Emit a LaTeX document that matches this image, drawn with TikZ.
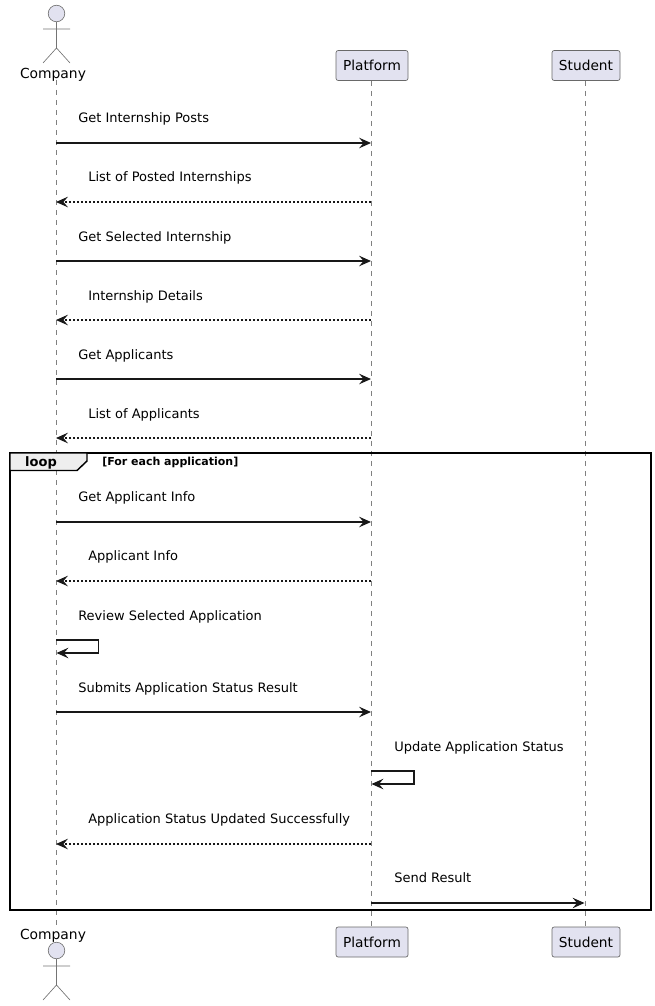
\documentclass[tikz,border=0pt]{standalone}
\usepackage{fontspec}
\setmainfont{DejaVu Sans}
\usetikzlibrary{arrows.meta}
\definecolor{partfill}{HTML}{E2E2F0}
\definecolor{partline}{HTML}{181818}
\definecolor{tabfill}{HTML}{EEEEEE}
\tikzset{
  box/.style={draw=partline!65,line width=0.5pt,fill=partfill,rounded corners=1.6pt,minimum height=22.5pt,inner sep=0pt,font=\fontsize{10.3pt}{12pt}\selectfont,text=black},
  lifeline/.style={draw=partline!55,line width=0.38pt,dash pattern=on 3.75pt off 3.75pt},
  stick/.style={draw=partline!60,line width=0.5pt},
  head/.style={circle,draw=partline!60,line width=0.5pt,fill=partfill,minimum size=12.4pt,inner sep=0pt},
  actorname/.style={anchor=base,inner sep=0pt,font=\fontsize{10.4pt}{12pt}\selectfont,text=black},
  lbl/.style={anchor=base west,inner sep=0pt,font=\fontsize{9.75pt}{12pt}\selectfont,text=black},
  call/.style={draw=partline,line width=1.1pt,-{Stealth[length=9pt,width=8pt,inset=3.4pt,line width=0pt]}},
  reply/.style={call,dash pattern=on 1.5pt off 1.5pt},
  frameline/.style={draw=black,line width=1.1pt},
}
\begin{document}
\begin{tikzpicture}[x=0.75pt,y=-0.75pt]
\useasboundingbox (0,0) rectangle (655,1006);
% lifeline ends
\coordinate (cT) at (56,80); \coordinate (cB) at (56,927);
\node[box,minimum width=54pt] (pT) at (372,65.5) {Platform};
\node[box,minimum width=54pt] (pB) at (372,942) {Platform};
\node[box,minimum width=51pt] (sT) at (586,65.5) {Student};
\node[box,minimum width=51pt] (sB) at (586,942) {Student};
\draw[lifeline] (cT) -- (cB);
\draw[lifeline] (pT.south -| 371,0) -- (pB.north -| 371,0);
\draw[lifeline] (sT.south -| 585,0) -- (sB.north -| 585,0);
% top actor
\node[head] (hT) at (56.5,13.5) {};
\coordinate (aTl) at (43,29); \coordinate (aTr) at (70,29);
\coordinate (hipT) at (56.5,48); \coordinate (fTl) at (43,63); \coordinate (fTr) at (70,63);
\draw[stick] (hT) -- (hipT) (aTl) -- (aTr) (fTl) -- (hipT) -- (fTr);
\node[actorname] (nT) at (53,78.5) {Company};
% bottom actor
\node[actorname] (nB) at (53,939) {Company};
\node[head] (hB) at (56.5,950.5) {};
\coordinate (aBl) at (43,966); \coordinate (aBr) at (70,966);
\coordinate (hipB) at (56.5,985); \coordinate (fBl) at (43,1000); \coordinate (fBr) at (70,1000);
\draw[stick] (hB) -- (hipB) (aBl) -- (aBr) (fBl) -- (hipB) -- (fBr);
% frame
\draw[frameline] (10,453) rectangle (651,910);
\draw[frameline,fill=tabfill] (10,453) -- (87,453) -- (87,461) -- (77,470.5) -- (10,470.5) -- cycle;
\node[anchor=base,inner sep=0pt,font=\bfseries\fontsize{9.75pt}{12pt}\selectfont] (looplbl) at (41,466) {loop};
\node[anchor=base west,inner sep=0pt,font=\bfseries\fontsize{8.25pt}{10pt}\selectfont] (guard) at (102,465) {[For each application]};
% messages
\foreach \n/\yy in {1/143,2/202,3/261,4/320,5/379,6/438,7/522,8/581,10/712,12/844}{
  \coordinate (c\n) at (56,\yy); \coordinate (p\n) at (371,\yy);}
\coordinate (p13) at (371,903); \coordinate (s13) at (584.5,903);
\coordinate (c9a) at (56,640); \coordinate (r9a) at (98.5,640); \coordinate (r9b) at (98.5,653); \coordinate (c9b) at (56.5,653);
\coordinate (p11a) at (371,771); \coordinate (r11a) at (414,771); \coordinate (r11b) at (414,784); \coordinate (p11b) at (371.5,784);
\draw[call] (c1) -- (p1);
\draw[reply] (p2) -- (c2);
\draw[call] (c3) -- (p3);
\draw[reply] (p4) -- (c4);
\draw[call] (c5) -- (p5);
\draw[reply] (p6) -- (c6);
\draw[call] (c7) -- (p7);
\draw[reply] (p8) -- (c8);
\draw[call] (c9a) -- (r9a) -- (r9b) -- (c9b);
\draw[call] (c10) -- (p10);
\draw[call] (p11a) -- (r11a) -- (r11b) -- (p11b);
\draw[reply] (p12) -- (c12);
\draw[call] (p13) -- (s13);
% labels
\node[lbl] (m1) at (78,122.5) {Get Internship Posts};
\node[lbl] (m2) at (88,181) {List of Posted Internships};
\node[lbl] (m3) at (78,241) {Get Selected Internship};
\node[lbl] (m4) at (88,300) {Internship Details};
\node[lbl] (m5) at (78,359) {Get Applicants};
\node[lbl] (m6) at (88,418) {List of Applicants};
\node[lbl] (m7) at (78,501) {Get Applicant Info};
\node[lbl] (m8) at (88,560) {Applicant Info};
\node[lbl] (m9) at (78,620) {Review Selected Application};
\node[lbl] (m10) at (78,692) {Submits Application Status Result};
\node[lbl] (m11) at (394,751) {Update Application Status};
\node[lbl] (m12) at (88,823) {Application Status Updated Successfully};
\node[lbl] (m13) at (394,882) {Send Result};
\end{tikzpicture}
\end{document}
